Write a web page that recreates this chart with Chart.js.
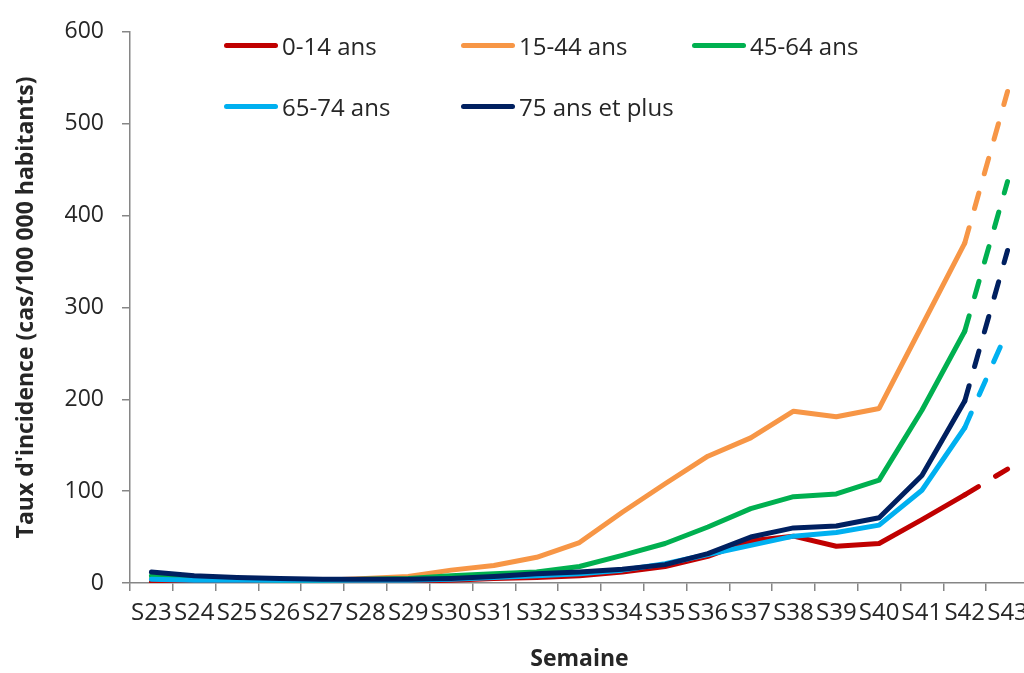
<!DOCTYPE html>
<html lang="fr">
<head>
    <meta charset="UTF-8">
    <title>Taux d'incidence par classe d'âge</title>
    <script src="https://cdn.jsdelivr.net/npm/chart.js"></script>
    <style>
        body { margin: 0; overflow: hidden; background: #fff; font-family: "Open Sans", sans-serif; }
        #wrap { position: relative; width: 1036px; height: 673px; }
        #legend { position: absolute; left: 0; top: 0; }
        .item { position: absolute; display: flex; align-items: center; font-size: 24px; color: #262626; white-space: nowrap; }
        .item span.swatch { display: inline-block; width: 54px; height: 5px; border-radius: 3px; margin-right: 4px; }
    </style>
</head>
<body>
    <div id="wrap">
        <canvas id="chart"></canvas>
        <div id="legend"></div>
    </div>

    <script>
        // semaines
        const weeks = ['S23','S24','S25','S26','S27','S28','S29','S30','S31','S32','S33',
                       'S34','S35','S36','S37','S38','S39','S40','S41','S42','S43'];

        const age0to14  = [1, 1, 1, 1, 1, 1, 2, 3, 5, 6, 8, 12, 18, 29, 46, 51, 40, 43, 69, 96, 124];
        const age15to44 = [5, 4, 4, 3, 3, 5, 7, 14, 19, 28, 44, 77, 108, 138, 158, 187, 181, 190, 280, 370, 535];
        const age45to64 = [8, 5, 4, 3, 3, 4, 5, 8, 10, 12, 18, 30, 43, 61, 81, 94, 97, 112, 188, 274, 437];
        const age65to74 = [4, 3, 3, 3, 3, 3, 3, 4, 6, 8, 10, 14, 21, 31, 41, 51, 55, 63, 101, 169, 275];
        const age75plus = [12, 8, 6, 5, 4, 4, 4, 5, 7, 10, 12, 15, 20, 32, 50, 60, 62, 71, 117, 198, 362];

        const seriesNames  = ['0-14 ans', '15-44 ans', '45-64 ans', '65-74 ans', '75 ans et plus'];
        const seriesColors = ['#C00000', '#F79646', '#00B050', '#00B0F0', '#002060'];
        const seriesData   = [age0to14, age15to44, age45to64, age65to74, age75plus];

        const yTicks = [0, 100, 200, 300, 400, 500, 600];

        // last week is provisional -> dashed
        const lastIdx = weeks.length - 1;

        const datasets = seriesData.map((d, i) => ({
            label: seriesNames[i],
            data: d,
            borderColor: seriesColors[i],
            backgroundColor: seriesColors[i],
            borderWidth: 5,
            pointRadius: 0,
            tension: 0,
            borderCapStyle: 'round',
            borderJoinStyle: 'round',
            order: seriesData.length - i,
            segment: {
                borderDash: ctx => ctx.p1DataIndex === lastIdx ? [16, 20] : undefined
            }
        }));

        // legend laid out like the original (two rows inside the plot)
        const legendPos = [[224, 46], [461, 46], [692, 46], [224, 107], [461, 107]];
        const legend = document.getElementById('legend');
        seriesNames.forEach((name, i) => {
            const el = document.createElement('div');
            el.className = 'item';
            el.style.left = legendPos[i][0] + 'px';
            el.style.top = (legendPos[i][1] - 17) + 'px';
            el.innerHTML = '<span class="swatch" style="background:' + seriesColors[i] + '"></span>' + name;
            legend.appendChild(el);
        });

        const axisColor = '#868686';
        const textColor = '#262626';

        new Chart(document.getElementById('chart'), {
            type: 'line',
            data: { labels: weeks, datasets: datasets },
            options: {
                responsive: true,
                maintainAspectRatio: false,
                animation: false,
                layout: { padding: { top: 27, right: 7, left: 0, bottom: 0 } },
                plugins: { legend: { display: false }, tooltip: { enabled: false } },
                scales: {
                    x: {
                        offset: true,
                        grid: { offset: true, drawOnChartArea: false, drawTicks: true, tickLength: 8, color: axisColor, lineWidth: 1.5 },
                        border: { color: axisColor, width: 1.5 },
                        ticks: { autoSkip: false, maxRotation: 0, padding: 8, color: textColor, font: { family: 'Open Sans', size: 24 } },
                        title: { display: true, text: 'Semaine', color: textColor, padding: { top: 8, bottom: 0 }, font: { family: 'Open Sans', size: 23, weight: 'bold' } },
                        afterFit: s => { s.height = 90; }
                    },
                    y: {
                        min: 0,
                        max: 600,
                        afterBuildTicks: s => { s.ticks = yTicks.map(v => ({ value: v })); },
                        grid: { drawOnChartArea: false, drawTicks: true, tickLength: 8, color: axisColor, lineWidth: 1.5 },
                        border: { color: axisColor, width: 1.5 },
                        ticks: { padding: 18, color: textColor, font: { family: 'Open Sans', size: 23 } },
                        title: { display: true, text: "Taux d'incidence (cas/100 000 habitants)", color: textColor, padding: { top: 13, bottom: 0 }, font: { family: 'Open Sans', size: 23, weight: 'bold' } },
                        afterFit: s => { s.width = 130; }
                    }
                }
            }
        });
    </script>
</body>
</html>
